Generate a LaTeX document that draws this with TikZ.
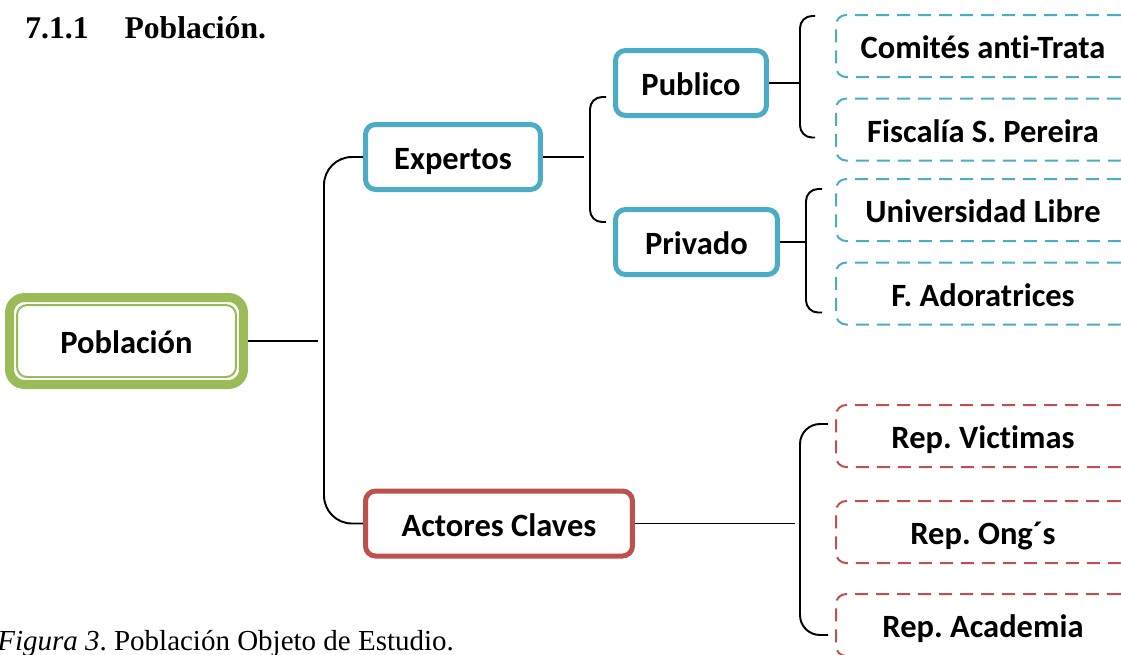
\documentclass[tikz,border=0pt]{standalone}
\usepackage{fontspec}
\setmainfont{Liberation Serif}
\newfontfamily\cajafont[Ligatures=NoCommon]{Carlito}
\usepackage{tikz}
\usetikzlibrary{calc}
\frenchspacing

\definecolor{azul}{HTML}{4BACC6}
\definecolor{verde}{HTML}{9BBB59}
\definecolor{rojo}{HTML}{C0504D}

\begin{document}
\begin{tikzpicture}[x=0.02cm, y=-0.02cm,
    txt/.style={font=\cajafont\bfseries\fontsize{18.5}{22}\selectfont, align=center, inner sep=0pt, text height=14.5pt, text depth=0pt},
    raiz/.style={txt, draw=verde, line width=0.18cm, rounded corners=0.3cm, minimum width=4.68cm, minimum height=1.74cm},
    grupo/.style={txt, draw=#1, line width=0.1cm, rounded corners=0.2cm, minimum height=1.3cm},
    hoja/.style={txt, draw=#1, line width=0.04cm, dash pattern=on 0.26cm off 0.16cm, rounded corners=0.2cm, minimum width=5.88cm, minimum height=1.24cm},
    enlace/.style={line width=1.1pt}]
    \useasboundingbox (0,0) rectangle (1121,654);
    \clip (0,0) rectangle (1121,654);

    \node[anchor=base west, font=\bfseries\fontsize{18}{21}\selectfont, inner sep=0pt] (titulo) at (25,38) {7.1.1\hspace{0.72cm}Población.};
    \node[anchor=base west, font=\fontsize{16.5}{19}\selectfont, inner sep=0pt] (pie) at (-3,650) {\textit{Figura 3}. Población Objeto de Estudio.};

    \node[raiz] (pob) at (126.5,341) {Población};
    \draw[verde, line width=0.04cm, rounded corners=0.2cm] ($(pob.north west)+(12,12)$) rectangle ($(pob.south east)+(-12,-12)$);

    \node[grupo=azul, minimum width=3.5cm] (exp) at (453,157) {Expertos};
    \node[grupo=azul, minimum width=3.02cm] (pub) at (691,83) {Publico};
    \node[grupo=azul, minimum width=3.24cm] (pri) at (696.5,242) {Privado};
    \node[grupo=rojo, minimum width=5.34cm] (act) at (499,523.5) {Actores Claves};

    \node[hoja=azul] (com) at (983,46) {Comités anti-Trata};
    \node[hoja=azul] (fis) at (983,129.5) {Fiscalía S. Pereira};
    \node[hoja=azul] (uni) at (983,210) {Universidad Libre};
    \node[hoja=azul] (ado) at (983,293.5) {F. Adoratrices};
    \node[hoja=rojo] (vic) at (983,436) {Rep. Victimas};
    \node[hoja=rojo] (ong) at (983,532) {Rep. Ong´s};
    \node[hoja=rojo] (aca) at (983,625) {Rep. Academia};

    \coordinate (b0) at (324,339);
    \coordinate (b1) at (590,159);
    \coordinate (b2) at (800,83);
    \coordinate (b3) at (806,242);
    \coordinate (b4) at (800,523);

    \draw[enlace, shorten >=0.12cm] (pob.east) -- (pob.east -| b0);
    \draw[enlace, rounded corners=0.56cm] (exp.west) -| (b0) |- (act.west);

    \draw[enlace, shorten >=0.12cm] (exp.east) -- (exp.east -| b1);
    \draw[enlace, rounded corners=0.24cm] ($(pub.west)+(-7,14)$) -| (b1) |- ($(pri.west)+(-7,-20)$);

    \draw[enlace] (pub.east) -- (pub.east -| b2);
    \draw[enlace, rounded corners=0.24cm] ($(com.west)+(-20,-30)$) -| (b2) |- ($(fis.west)+(-20,8)$);

    \draw[enlace] (pri.east) -- (pri.east -| b3);
    \draw[enlace, rounded corners=0.24cm] ($(uni.west)+(-13,-21)$) -| (b3) |- ($(ado.west)+(-13,19)$);

    \draw[enlace, shorten >=0.1cm] (act.east) -- (act.east -| b4);
    \draw[enlace, rounded corners=0.4cm] ($(vic.west)+(-7,-12)$) -| (b4) |- ($(aca.west)+(-7,10)$);
\end{tikzpicture}
\end{document}
